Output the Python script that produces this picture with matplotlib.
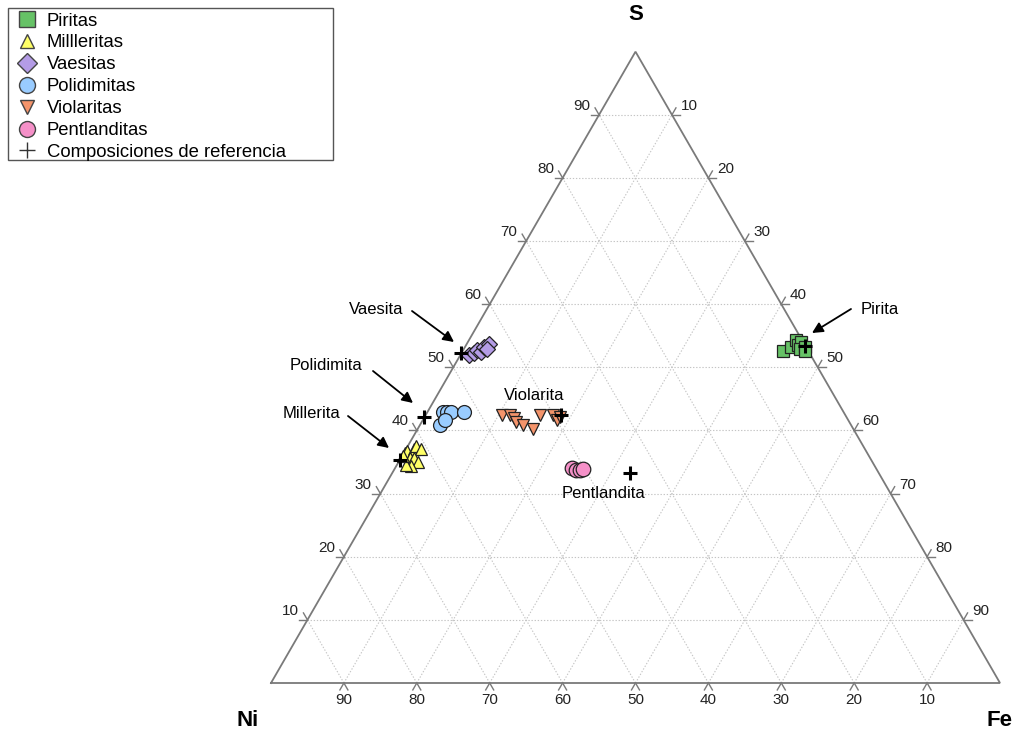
import numpy as np
import matplotlib
matplotlib.use('Agg')
import matplotlib.pyplot as plt
from matplotlib.lines import Line2D
from matplotlib.patches import Rectangle

plt.rcParams['font.family'] = ['Liberation Sans', 'DejaVu Sans']

# ---------------- data (weight %, Fe and S; Ni = 100 - Fe - S) ----------------
piritas_fe = [43.9, 44.7, 44.8, 45.5, 45.7, 46.1, 46.6, 47.0]
piritas_s = [52.6, 53.2, 54.3, 53.5, 54.0, 52.9, 53.2, 52.6]

milleritas_fe = [0.2, 0.3, 1.1, 1.1, 2.1, 1.2, 1.8, 2.6, 2.1, 1.2, 0.1]
milleritas_s = [36.4, 36.7, 37.0, 37.6, 37.0, 35.6, 35.6, 35.0, 34.3, 34.6, 35.9]

vaesitas_fe = [1.2, 1.7, 1.9, 2.6, 2.6, 3.1, 3.2]
vaesitas_s = [52.0, 52.3, 52.8, 52.4, 53.2, 53.7, 52.9]

polidimitas_fe = [2.1, 2.7, 3.2, 5.0, 2.8, 3.0]
polidimitas_s = [43.0, 43.0, 43.0, 43.0, 40.9, 41.7]

violaritas_fe = [10.5, 11.6, 12.3, 12.9, 14.1, 15.8, 15.7, 17.5, 18.4, 18.6]
violaritas_s = [42.4, 42.5, 42.0, 41.4, 40.8, 40.2, 42.5, 42.5, 41.7, 42.2]

pentlanditas_fe = [24.3, 25.0, 25.6, 25.9]
pentlanditas_s = [34.0, 33.7, 33.7, 33.9]

ref_names = ['Vaesita', 'Polidimita', 'Millerita', 'Pirita', 'Violarita', 'Pentlandita']
ref_fe = [0.0, 0.0, 0.0, 46.6, 18.5, 32.6]
ref_s = [52.2, 42.1, 35.3, 53.4, 42.5, 33.2]

legend_labels = ['Piritas', 'Millleritas', 'Vaesitas', 'Polidimitas', 'Violaritas',
                 'Pentlanditas', 'Composiciones de referencia']
tick_values = [10, 20, 30, 40, 50, 60, 70, 80, 90]
vertex_labels = ['Ni', 'Fe', 'S']

# ---------------- geometry ----------------
H = np.sqrt(3) / 2


def tern(fe, s):
    fe = np.asarray(fe, float)
    s = np.asarray(s, float)
    return fe + s / 2.0, s * H


W_PX, H_PX = 1018, 738
PX = 7.29       # pixels per ternary unit
X0, Y0 = 271, 683


def px(x, y):
    return ((x - X0) / PX, (Y0 - y) / PX)


fig = plt.figure(figsize=(W_PX / 100, H_PX / 100), dpi=100)
ax = fig.add_axes([0, 0, 1, 1])
ax.set_xlim(-X0 / PX, (W_PX - X0) / PX)
ax.set_ylim(-(H_PX - Y0) / PX, Y0 / PX)
ax.axis('off')

# grid
gkw = dict(color='#c4c4c4', lw=0.8, ls=(0, (1.2, 1.6)), zorder=1)
for v in tick_values:
    x, y = tern([0, 100 - v], [v, v])
    ax.plot(x, y, **gkw)
    x, y = tern([v, v], [0, 100 - v])
    ax.plot(x, y, **gkw)
    x, y = tern([100 - v, 0], [0, 100 - v])
    ax.plot(x, y, **gkw)

# triangle
x, y = tern([0, 100, 0, 0], [0, 0, 100, 0])
ax.plot(x, y, color='#7a7a7a', lw=1.3, zorder=2, solid_joinstyle='miter')

# ticks and tick labels
TL = 8 / PX
tkw = dict(color='#7a7a7a', lw=1.0, zorder=2)
lab_fs = 11
for v in tick_values:
    # left edge (S)
    x0, y0 = tern(0, v)
    for dx, dy in [(-1, 0), (-0.5, H)]:
        ax.plot([x0, x0 + dx * TL], [y0, y0 + dy * TL], **tkw)
    ax.text(x0 - 17 / PX, y0 + 9 / PX, f'{v}', ha='center', va='center', fontsize=lab_fs, color='#222')
    # right edge (Fe)
    x0, y0 = tern(v, 100 - v)
    for dx, dy in [(1, 0), (0.5, H)]:
        ax.plot([x0, x0 + dx * TL], [y0, y0 + dy * TL], **tkw)
    ax.text(x0 + 17 / PX, y0 + 9 / PX, f'{v}', ha='center', va='center', fontsize=lab_fs, color='#222')
    # bottom edge (Ni)
    x0, y0 = tern(100 - v, 0)
    for dx, dy in [(-0.5, -H), (0.5, -H)]:
        ax.plot([x0, x0 + dx * TL], [y0, y0 + dy * TL], **tkw)
    ax.text(x0, y0 - 17 / PX, f'{v}', ha='center', va='center', fontsize=lab_fs, color='#222')

# vertex labels
ax.text(*px(248, 721), vertex_labels[0], ha='center', va='center', fontsize=16, fontweight='bold')
ax.text(*px(1000, 721), vertex_labels[1], ha='center', va='center', fontsize=16, fontweight='bold')
ax.text(*px(636, 15), vertex_labels[2], ha='center', va='center', fontsize=16, fontweight='bold')

# ---------------- points ----------------
ec = '#222222'
groups = [
    (piritas_fe, piritas_s, 's', '#66C266', 8.0, 11.0),
    (milleritas_fe, milleritas_s, '^', '#FFFF66', 8.0, 10.0),
    (vaesitas_fe, vaesitas_s, 'D', '#B49CE6', 8.5, 10.0),
    (polidimitas_fe, polidimitas_s, 'o', '#99CCFF', 10.0, 11.5),
    (violaritas_fe, violaritas_s, 'v', '#F4946B', 8.0, 10.0),
    (pentlanditas_fe, pentlanditas_s, 'o', '#F590C8', 10.5, 11.5),
]
handles = []
for fe, s, mk, col, ms, lms in groups:
    x, y = tern(fe, s)
    ax.plot(x, y, ls='none', marker=mk, ms=ms, mfc=col, mec=ec, mew=0.9, zorder=4)
    handles.append(Line2D([], [], ls='none', marker=mk, ms=lms, mfc=col, mec='#444', mew=1.0))

x, y = tern(ref_fe, ref_s)
ax.plot(x, y, ls='none', marker='+', ms=10, mew=2.2, color='black', zorder=6)
handles.append(Line2D([], [], ls='none', marker='+', ms=11, mew=1.0, color='#333'))

# ---------------- annotations ----------------
akw = dict(arrowstyle='-|>', color='black', lw=1.3, mutation_scale=16, shrinkA=0, shrinkB=0)
ann_fs = 12
annots = [
    ('Vaesita', (376, 310), (412, 311), (454, 342)),
    ('Polidimita', (326, 365), (373, 371), (413, 403)),
    ('Millerita', (312, 414), (348, 416), (389, 448)),
    ('Pirita', (880, 310), (851, 309), (812, 333)),
]
for name, tpos, tail, head in annots:
    ax.text(*px(*tpos), name, ha='center', va='center', fontsize=ann_fs)
    ax.annotate('', xy=px(*head), xytext=px(*tail), arrowprops=akw, zorder=5)
ax.text(*px(534, 395), 'Violarita', ha='center', va='center', fontsize=ann_fs)
ax.text(*px(604, 493), 'Pentlandita', ha='center', va='center', fontsize=ann_fs)

# ---------------- legend ----------------
leg_fs = 13.3
fs_px = leg_fs * 100 / 72
hl = 1.0
left = 27 - hl * fs_px / 2
htp = (20 - hl * fs_px / 2) / fs_px
leg = fig.legend(handles, legend_labels, loc='upper left',
                 bbox_to_anchor=(left / W_PX, 1 - 12.5 / H_PX),
                 fontsize=leg_fs, frameon=False, borderpad=0, labelspacing=0.265,
                 handlelength=hl, handletextpad=htp, borderaxespad=0)
fig.add_artist(Rectangle((8 / W_PX, 1 - 160 / H_PX), 325 / W_PX, 152 / H_PX,
                         transform=fig.transFigure, fill=False, ec='#555555', lw=1.0))

fig.savefig('out.png', dpi=100)
